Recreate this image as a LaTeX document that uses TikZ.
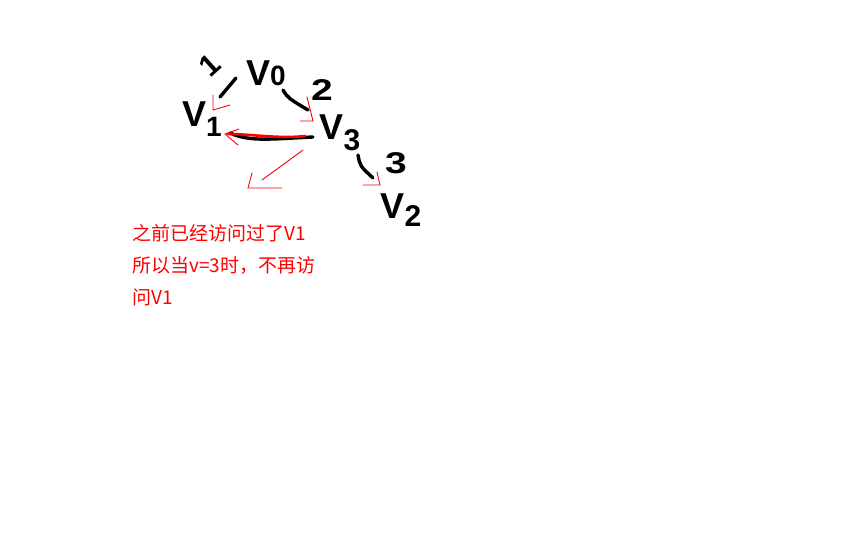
\documentclass[tikz,border=0pt]{standalone}
\usepackage{fontspec}
\setmainfont{Liberation Sans}
\newfontfamily\cjk{Noto Sans CJK SC}
\begin{document}
\begin{tikzpicture}[x=1pt,y=-1pt,
  ink/.style={line width=3.4pt, line cap=round, line join=round, black},
  pen/.style={line width=0.9pt, red, line cap=round, line join=miter},
  redline/.style={line width=2.6pt, red, line cap=round},
  vlabel/.style={inner sep=0pt, font=\fontsize{36}{36}\selectfont\bfseries},
  wlabel/.style={inner sep=0pt, font=\fontsize{30}{30}\selectfont\bfseries},
  wide/.style={xscale=1.3},
  note/.style={inner sep=0pt, anchor=north west, align=left, text=red,
    font=\cjk\fontsize{19}{32}\selectfont},
]
\useasboundingbox[fill=white] (0,0) rectangle (864,540);
% vertices
\node[vlabel] (v0) at (266,73) {V{\fontsize{28}{28}\selectfont 0}};
\node[vlabel] (v1) at (202,119) {V\raisebox{-10pt}{\fontsize{28}{28}\selectfont 1}};
\node[vlabel] (v3) at (340,133) {V\raisebox{-11pt}{\fontsize{30}{30}\selectfont 3}};
\node[vlabel] (v2) at (401,210) {V\raisebox{-8pt}{\fontsize{30}{30}\selectfont 2}};
% weights
\node[wlabel, rotate=42] (w1) at (210,65) {1};
\node[wlabel, wide] (w2) at (322,90) {2};
\node[wlabel, wide] (w3) at (396,163) {3};
% edge end points
\coordinate (e01a) at (220,97);  \coordinate (e01b) at (236,78);
\coordinate (e03a) at (283,90);  \coordinate (e03b) at (308,110);
\coordinate (e31a) at (313,137); \coordinate (e31b) at (230,133);
\coordinate (e32a) at (358,155); \coordinate (e32b) at (373,178);
% black edges
\draw[ink] (e01a) -- (e01b);
\draw[ink] (e03a) .. controls (288,98) .. (e03b);
\draw[ink] (e31a) .. controls (270,139) and (250,142) .. (e31b);
\draw[ink] (e32a) .. controls (360,166) .. (e32b);
% red traversal marks
\coordinate (t1) at (213,110);
\draw[pen] (213,95) -- (t1) -- (230,105);
\coordinate (t3) at (313,121);
\draw[pen] (307,97) -- (t3) -- (300,121);
\coordinate (r31a) at (305,136); \coordinate (r31b) at (228,134);
\draw[redline] (r31a) .. controls (280,139) and (250,134) .. (r31b);
\draw[pen] (239,129) -- (225,134) -- (238,145);
\coordinate (d1) at (303,150); \coordinate (d2) at (262,180);
\draw[pen] (d1) -- (d2);
\draw[pen] (252,173) -- (248,188) -- (282,188);
\coordinate (t2) at (380,185);
\draw[pen] (377,172) -- (t2) -- (363,185);
% note
\node[note] (txt) at (132,224) {之前已经访问过了V1\\所以当v=3时，不再访\\问V1};
\end{tikzpicture}
\end{document}
